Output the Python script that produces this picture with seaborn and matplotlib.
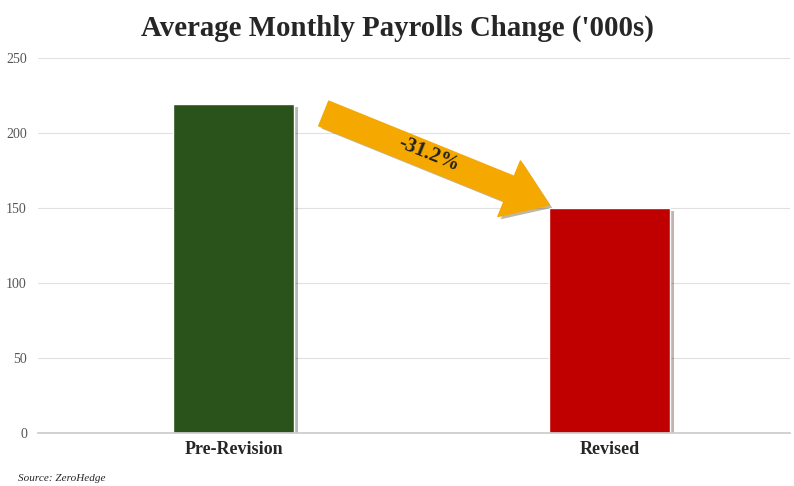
import matplotlib
matplotlib.use("Agg")
import matplotlib.pyplot as plt
import seaborn as sns
import pandas as pd
import matplotlib.patheffects as pe

categories = ["Pre-Revision", "Revised"]
values = [219, 150]
colors = ["#2a531b", "#c00000"]
change_label = "-31.2%"

sns.set_theme(style="white")
plt.rcParams['font.family'] = ['Liberation Serif', 'DejaVu Serif']

fig = plt.figure(figsize=(7.94, 4.86), dpi=100)
ax = fig.add_axes([38/794, 1-433/486, 752/794, 375/486])
df = pd.DataFrame({"cat": categories, "val": values})
sns.barplot(data=df, x="cat", y="val", hue="cat", palette=colors, width=0.32,
            legend=False, ax=ax, saturation=1)
for p in ax.patches:
    p.set_path_effects([pe.SimplePatchShadow(offset=(3, -2), alpha=0.3), pe.Normal()])
ax.set_xlim(-0.52, 1.48)
ax.set_ylim(0, 250)
ax.set_yticks(range(0, 251, 50))
ax.yaxis.grid(True, color="#e0e0e0", lw=0.8)
ax.set_axisbelow(True)
for s in ["top", "right", "left"]:
    ax.spines[s].set_visible(False)
ax.spines["bottom"].set_color("#cccccc")
ax.set_xlabel(""); ax.set_ylabel("")
ax.tick_params(axis="y", labelsize=10, labelcolor="#555555", pad=8, length=0)
ax.tick_params(axis="x", labelsize=13, pad=6, length=0)
for t in ax.get_xticklabels():
    t.set_fontweight("bold")

ax.annotate("", xy=(0.84, 152), xytext=(0.24, 213),
            arrowprops=dict(arrowstyle="simple,head_width=3.6,head_length=2.6,tail_width=1.6",
                            color="#f5a800", shrinkA=0, shrinkB=0,
                            path_effects=[pe.SimplePatchShadow(offset=(2, -2), alpha=0.35), pe.Normal()]))
ax.text(0.52, 186, change_label, rotation=-22, ha="center", va="center",
        fontsize=15, fontweight="bold", color="#222222")

fig.text(0.5, 1-28/486, "Average Monthly Payrolls Change ('000s)", ha="center", va="center",
         fontsize=20.8, fontweight="bold")
fig.text(18/794, 1-478/486, "Source: ZeroHedge", fontsize=8, style="italic", va="center")
fig.savefig("out.png", dpi=100)
